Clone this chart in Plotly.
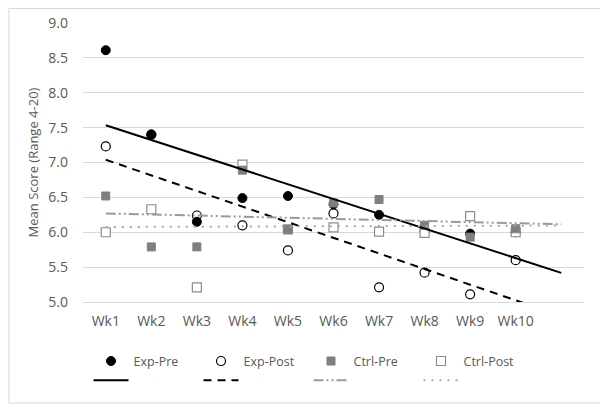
import numpy as np
import plotly.graph_objects as go

weeks = ["Wk1", "Wk2", "Wk3", "Wk4", "Wk5", "Wk6", "Wk7", "Wk8", "Wk9", "Wk10"]
exp_pre = [8.61, 7.40, 6.15, 6.49, 6.52, 6.40, 6.25, 6.02, 5.98, 6.00]
exp_post = [7.23, 7.40, 6.24, 6.10, 5.74, 6.27, 5.21, 5.42, 5.11, 5.60]
ctrl_pre = [6.52, 5.79, 5.79, 6.89, 6.04, 6.42, 6.47, 6.10, 5.93, 6.05]
ctrl_post = [6.00, 6.33, 5.21, 6.97, 6.04, 6.07, 6.01, 5.99, 6.23, 6.00]

x = np.arange(1, len(weeks) + 1)
x_trend = np.array([1, len(weeks) + 1])  # linear trend, forecast one period forward

FONT = "Open Sans"
TXT = "#595959"
GRID = "#d9d9d9"

fig = go.Figure()

def trend(vals):
    m, b = np.polyfit(x, vals, 1)
    return m * x_trend + b

# marker series (draw order chosen to mimic overlap in reference)
fig.add_trace(go.Scatter(x=x, y=exp_post, mode="markers", name="Exp-Post", legendrank=2,
                         marker=dict(symbol="circle", size=9, color="white",
                                     line=dict(color="black", width=1.2))))
fig.add_trace(go.Scatter(x=x, y=exp_pre, mode="markers", name="Exp-Pre", legendrank=1,
                         marker=dict(symbol="circle", size=9, color="black",
                                     line=dict(color="black", width=1))))
fig.add_trace(go.Scatter(x=x, y=ctrl_post, mode="markers", name="Ctrl-Post", legendrank=4,
                         marker=dict(symbol="square", size=9, color="white",
                                     line=dict(color="#8c8c8c", width=1.2))))
fig.add_trace(go.Scatter(x=x, y=ctrl_pre, mode="markers", name="Ctrl-Pre", legendrank=3,
                         marker=dict(symbol="square", size=8, color="#7f7f7f",
                                     line=dict(color="#7f7f7f", width=1))))

# trend lines
fig.add_trace(go.Scatter(x=x_trend, y=trend(exp_pre), mode="lines", name=" ", legendrank=5,
                         line=dict(color="black", width=2)))
fig.add_trace(go.Scatter(x=x_trend, y=trend(exp_post), mode="lines", name=" ", legendrank=6,
                         line=dict(color="black", width=2, dash="8px,6px")))
fig.add_trace(go.Scatter(x=x_trend, y=trend(ctrl_pre), mode="lines", name=" ", legendrank=7,
                         line=dict(color="#9a9a9a", width=2, dash="10px,3px,2px,3px,2px,3px")))
fig.add_trace(go.Scatter(x=x_trend, y=trend(ctrl_post), mode="lines", name=" ", legendrank=8,
                         line=dict(color="#a6a6a6", width=2, dash="2px,6px")))

fig.update_layout(
    width=600, height=400,
    margin=dict(l=75, r=24, t=15, b=106, autoexpand=False),
    paper_bgcolor="white", plot_bgcolor="white",
    font=dict(family=FONT, size=14, color=TXT),
    showlegend=True,
    legend=dict(orientation="h", x=0.011, xanchor="left", xref="paper",
                y=0.154, yanchor="top", yref="container",
                entrywidth=60, entrywidthmode="pixels", itemwidth=35,
                font=dict(family=FONT, size=12.5, color=TXT),
                bgcolor="rgba(0,0,0,0)", tracegroupgap=0),
    xaxis=dict(range=[0.5, 11.5], tickmode="array", tickvals=list(x), ticktext=weeks,
               showgrid=False, zeroline=False, showline=True, linecolor=GRID, linewidth=1,
               ticks="", ticklabelstandoff=6, tickfont=dict(size=14, color=TXT),
               automargin=False),
    yaxis=dict(range=[5, 9], dtick=0.5, tick0=5, tickformat=".1f",
               showgrid=True, gridcolor=GRID, gridwidth=1, zeroline=False, showline=False,
               ticks="", ticklabelstandoff=14, tickfont=dict(size=14, color=TXT),
               automargin=False,
               title=dict(text="Mean Score (Range 4-20)", standoff=6,
                          font=dict(size=13, color=TXT))),
    shapes=[dict(type="rect", xref="paper", yref="paper",
                 x0=-0.148, x1=1.038, y0=-0.362, y1=1.052,
                 line=dict(color=GRID, width=1), fillcolor="rgba(0,0,0,0)", layer="below")],
)

fig.write_html("out.html")
